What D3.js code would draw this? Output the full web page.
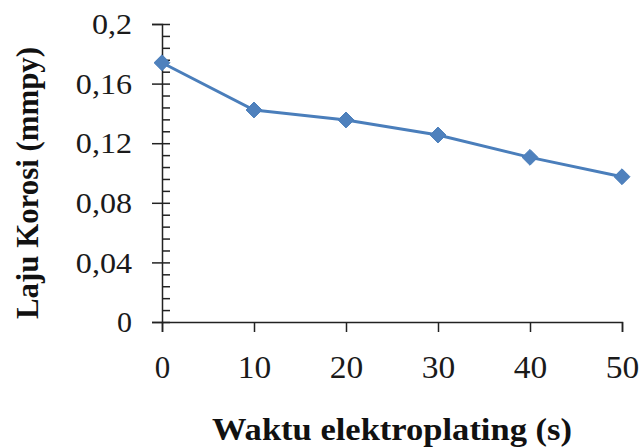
<!DOCTYPE html>
<html>
<head>
<meta charset="utf-8">
<script src="https://cdn.jsdelivr.net/npm/d3@7"></script>
<style>
  html, body { margin: 0; padding: 0; background: #fff; }
  svg { display: block; font-family: "Liberation Serif", "Times New Roman", serif; }
</style>
</head>
<body>
<svg id="chart" width="641" height="448"></svg>
<script>
// Corrosion rate versus electroplating time
const waktu = [0, 10, 20, 30, 40, 50];
const lajuKorosi = [0.174, 0.1423, 0.1356, 0.1255, 0.1105, 0.0975];
const yMajorTicks = [0, 0.04, 0.08, 0.12, 0.16, 0.2];
const xTicks = [0, 10, 20, 30, 40, 50];
const xTitle = "Waktu elektroplating (s)";
const yTitle = "Laju Korosi (mmpy)";

const svg = d3.select("#chart");
const plotLeft = 162, plotRight = 622, plotTop = 24, plotBottom = 322;

const x = d3.scaleLinear().domain([0, 50]).range([plotLeft, plotRight]);
const y = d3.scaleLinear().domain([0, 0.2]).range([plotBottom, plotTop]);

const fmt = d => d === 0 ? "0" : String(+d.toFixed(2)).replace(".", ",");

// widen multi-character labels slightly
function spread(sel, factor) {
  sel.each(function () {
    if (this.textContent.length > 1) {
      const w = this.getComputedTextLength();
      d3.select(this).attr("textLength", w * factor).attr("lengthAdjust", "spacingAndGlyphs");
    }
  });
}

// minor ticks on the inner side of the y axis
const minor = d3.range(0, 0.2001, 0.008);
svg.append("g")
  .attr("transform", `translate(${plotLeft},0)`)
  .call(d3.axisRight(y).tickValues(minor).tickSize(8).tickFormat(""))
  .call(g => g.select(".domain").remove())
  .call(g => g.selectAll("line").attr("stroke", "#222").attr("stroke-width", 1.5));

// y axis with major ticks and labels
svg.append("g")
  .attr("transform", `translate(${plotLeft},0)`)
  .call(d3.axisLeft(y).tickValues(yMajorTicks).tickSize(10).tickPadding(20).tickFormat(fmt))
  .call(g => g.select(".domain").attr("stroke", "#222").attr("stroke-width", 1.5))
  .call(g => g.selectAll("line").attr("stroke", "#222").attr("stroke-width", 1.5))
  .call(g => g.selectAll("text").attr("font-size", 30).attr("fill", "#1a1a1a")
    .attr("font-family", "Liberation Serif").call(spread, 1.07));

// x axis
svg.append("g")
  .attr("transform", `translate(0,${plotBottom})`)
  .call(d3.axisBottom(x).tickValues(xTicks).tickSize(10).tickPadding(24).tickFormat(d3.format("d")))
  .call(g => g.select(".domain").attr("stroke", "#222").attr("stroke-width", 1.5))
  .call(g => g.selectAll("line").attr("stroke", "#222").attr("stroke-width", 1.5))
  .call(g => g.selectAll("text").attr("font-size", 31).attr("fill", "#1a1a1a")
    .attr("font-family", "Liberation Serif").call(spread, 1.08));

// series line
const line = d3.line().x((d, i) => x(waktu[i])).y(d => y(d));
svg.append("path")
  .datum(lajuKorosi)
  .attr("fill", "none")
  .attr("stroke", "#4a7ebb")
  .attr("stroke-width", 3)
  .attr("d", line);

// diamond markers
const diamond = d3.symbol().type(d3.symbolDiamond2).size(160);
svg.append("g").selectAll("path")
  .data(lajuKorosi)
  .join("path")
  .attr("d", diamond)
  .attr("transform", (d, i) => `translate(${x(waktu[i])},${y(d)})`)
  .attr("fill", "#4f81bd")
  .attr("stroke", "#4a7ebb")
  .attr("stroke-width", 1);

// axis titles
svg.append("text")
  .attr("x", 392).attr("y", 440)
  .attr("text-anchor", "middle")
  .attr("font-size", 31).attr("font-weight", "bold").attr("fill", "#111")
  .attr("textLength", 360).attr("lengthAdjust", "spacingAndGlyphs")
  .text(xTitle);

svg.append("text")
  .attr("transform", "translate(38,183) rotate(-90)")
  .attr("text-anchor", "middle")
  .attr("font-size", 31).attr("font-weight", "bold").attr("fill", "#111")
  .attr("textLength", 272).attr("lengthAdjust", "spacingAndGlyphs")
  .text(yTitle);
</script>
</body>
</html>
